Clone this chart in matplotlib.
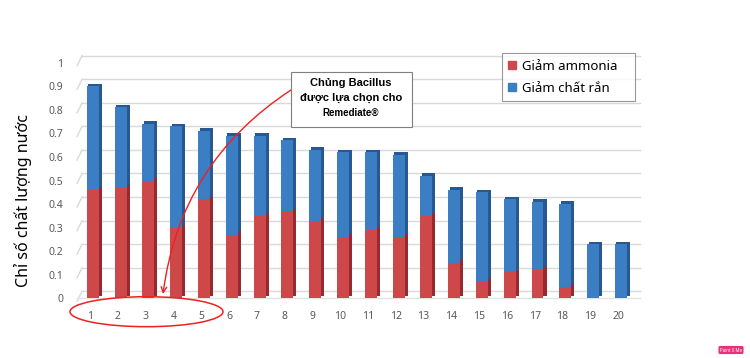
import matplotlib
matplotlib.use('Agg')
import matplotlib.pyplot as plt
from matplotlib.patches import Rectangle, Ellipse, Patch
import numpy as np

plt.rcParams['font.family'] = ['Noto Sans', 'DejaVu Sans']

# data
strains = list(range(1, 21))
ammonia = [0.46, 0.47, 0.50, 0.30, 0.42, 0.27, 0.35, 0.37, 0.33, 0.26,
           0.29, 0.26, 0.35, 0.15, 0.07, 0.11, 0.12, 0.05, 0.0, 0.0]
total = [0.90, 0.81, 0.74, 0.73, 0.71, 0.69, 0.69, 0.67, 0.63, 0.62,
         0.62, 0.61, 0.52, 0.46, 0.45, 0.42, 0.41, 0.40, 0.23, 0.23]
solids = [t - a for t, a in zip(total, ammonia)]
y_ticks = [0, 0.1, 0.2, 0.3, 0.4, 0.5, 0.6, 0.7, 0.8, 0.9, 1]
y_tick_labels = ['0', '0.1', '0.2', '0.3', '0.4', '0.5', '0.6', '0.7', '0.8', '0.9', '1']
legend_labels = ['Giảm ammonia', 'Giảm chất rắn']
ylabel = 'Chỉ số chất lượng nước'
note_lines = ['Chủng Bacillus', 'được lựa chọn cho', 'Remediate®']

red, red_dark = '#ce484a', '#962a2e'
blue, blue_dark = '#3b7ec4', '#285891'

fig = plt.figure(figsize=(7.5, 3.58), dpi=100)
ax = fig.add_axes([0.1027, 0.1668, 0.7507, 0.658])
ax.set_xlim(0.532, 20.79)
ax.set_ylim(0, 1)

x = np.array(strains, dtype=float)
am = np.array(ammonia)
so = np.array(solids)
tot = np.array(total)

# back wall gridlines (slightly raised, like the 3D original)
for v in y_ticks:
    ax.plot([0, 0.009], [v - 0.013, v + 0.03], color='#d9d9d9', lw=1,
            transform=ax.get_yaxis_transform(), clip_on=False, zorder=0)
    ax.plot([0.009, 1], [v + 0.03, v + 0.03], color='#d9d9d9', lw=1,
            transform=ax.get_yaxis_transform(), clip_on=False, zorder=0)
ax.plot([0, 1], [0, 0], color='#e3e3e3', lw=1,
        transform=ax.get_yaxis_transform(), clip_on=False, zorder=0)

w = 0.43
off = 0.1
depth_x = 0.11
depth_y = 0.011
right_edge = x + off + w / 2

# side faces
ax.bar(right_edge + depth_x / 2, am, width=depth_x, bottom=depth_y,
       color=red_dark, zorder=2)
ax.bar(right_edge + depth_x / 2, so, width=depth_x, bottom=am + depth_y,
       color=blue_dark, zorder=2)
# top caps
ax.bar(x + off + depth_x / 2, depth_y, width=w, bottom=tot,
       color=blue_dark, zorder=2)
# front faces
ax.bar(x + off, am, width=w, color=red, zorder=3)
ax.bar(x + off, so, width=w, bottom=am, color=blue, zorder=3)

for s in ax.spines.values():
    s.set_visible(False)
ax.set_xticks(x)
ax.set_xticklabels([str(i) for i in strains])
ax.set_yticks(y_ticks)
ax.set_yticklabels(y_tick_labels)
ax.tick_params(axis='x', length=0, pad=9, labelsize=7.5, labelcolor='#595959')
ax.tick_params(axis='y', length=0, pad=10, labelsize=7.5, labelcolor='#595959')
ax.set_ylabel(ylabel, fontsize=11.5, color='black')
ax.yaxis.set_label_coords(-0.08, 0.415)

# legend
handles = [Patch(color=red), Patch(color=blue)]
leg = ax.legend(handles, legend_labels, loc='upper left',
                bbox_to_anchor=(0.669, 0.852 - 0.125, 0.178, 0.125),
                bbox_transform=fig.transFigure, mode='expand',
                fontsize=9.5, frameon=True, fancybox=False, edgecolor='#7f7f7f',
                handlelength=0.55, handleheight=0.55, handletextpad=0.45,
                borderpad=0.5, labelspacing=0.7, borderaxespad=0)
leg.get_frame().set_linewidth(0.8)
leg.set_zorder(5)

# note box
fig.patches.append(Rectangle((291 / 750, 1 - 127 / 358), 121 / 750, 55 / 358,
                             transform=fig.transFigure, facecolor='white',
                             edgecolor='#7f7f7f', lw=0.8, zorder=5))
note_font = ['Liberation Sans', 'DejaVu Sans']
fig.text(351 / 750, 1 - 83 / 358, note_lines[0], ha='center', va='center',
         fontsize=8, fontweight='bold', family=note_font, zorder=6)
fig.text(351 / 750, 1 - 98 / 358, note_lines[1], ha='center', va='center',
         fontsize=8, fontweight='bold', family=note_font, zorder=6)
fig.text(351 / 750, 1 - 113 / 358, note_lines[2], ha='center', va='center',
         fontsize=7, fontweight='bold', family=note_font, zorder=6)

# red arrow from note box to strains 1-5
ax.annotate('', xy=(163 / 750, 1 - 294 / 358), xycoords='figure fraction',
            xytext=(291 / 750, 1 - 90 / 358), textcoords='figure fraction',
            arrowprops=dict(arrowstyle='->', color='#f02020', lw=1,
                            connectionstyle='arc3,rad=0.23',
                            shrinkA=0, shrinkB=0),
            annotation_clip=False)

fig.patches.append(Ellipse((146.5 / 750, 1 - 311.7 / 358), 153 / 750, 30 / 358,
                           transform=fig.transFigure, facecolor='none',
                           edgecolor='#f02020', lw=1.1, zorder=6))

# small watermark
fig.text(731 / 750, 1 - 350 / 358, 'Paint X Me', ha='center', va='center',
         fontsize=3.2, fontweight='bold', color='white',
         bbox=dict(boxstyle='round,pad=0.35', facecolor='#e8317a', edgecolor='none'))

fig.savefig('out.png', dpi=100)
